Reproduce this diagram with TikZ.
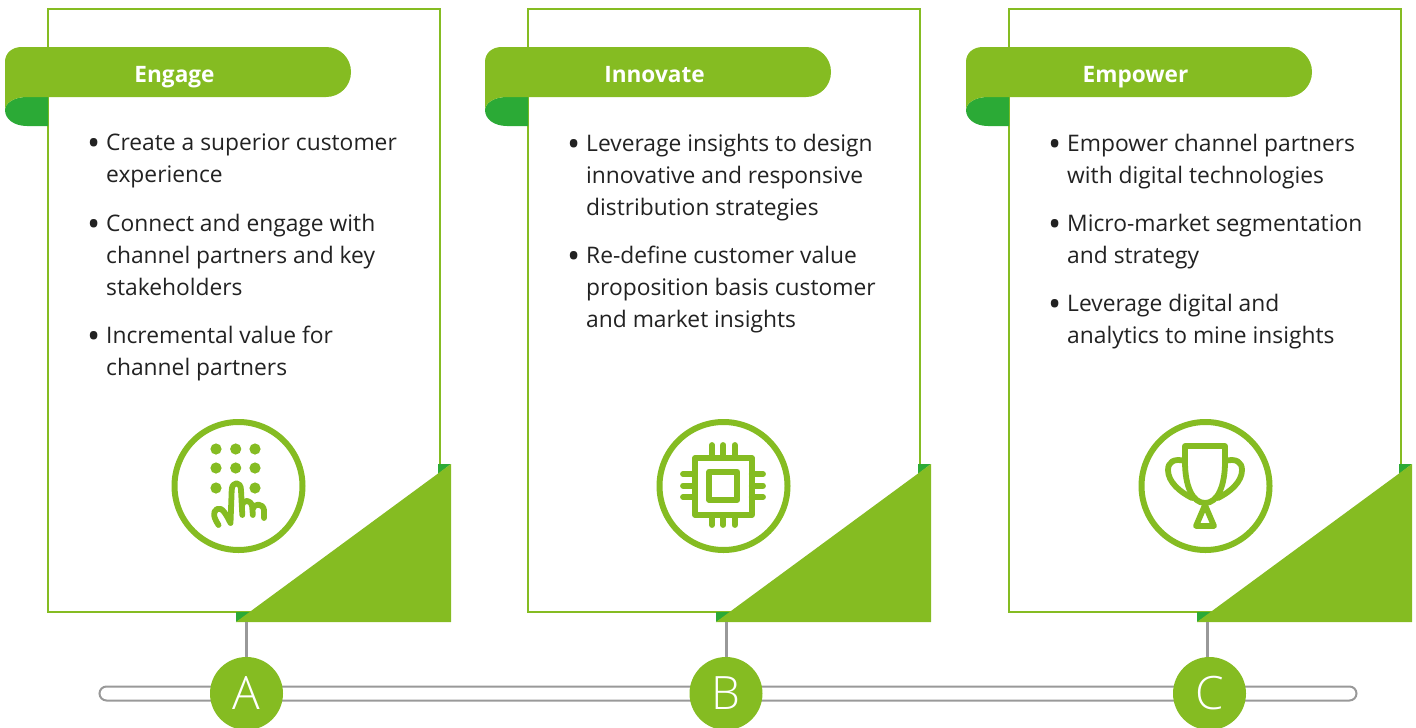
\documentclass[tikz,border=0pt]{standalone}
\usepackage{fontspec}
\setmainfont{Open Sans}
\newfontfamily\stepfont{Open Sans Light}
\usetikzlibrary{positioning}
\definecolor{leaf}{HTML}{85BC22}
\definecolor{deep}{HTML}{2BAA36}
\definecolor{rail}{HTML}{999999}
\definecolor{ink}{HTML}{222222}
\tikzset{
    card/.style={draw=leaf, line width=2.7pt, fill=white},
    bullettext/.style={anchor=north west, inner sep=0pt, align=left, text=ink,
        font=\fontsize{22.8}{32}\selectfont, execute at begin node=\strut},
    ribbontitle/.style={anchor=base, inner sep=0pt, text=white, font=\fontsize{22.6}{28}\selectfont\bfseries},
    iconring/.style={draw=leaf, circle, line width=6pt, minimum size=128pt, inner sep=0pt},
    iconline/.style={draw=leaf, line width=5.8pt, line cap=round, line join=round},
    keydot/.style={fill=leaf},
    track/.style={draw=rail, fill=white, line width=2pt, rounded corners=7pt, minimum width=1257pt, minimum height=14pt, inner sep=0pt},
    stem/.style={draw=rail, line width=3pt},
    stepdot/.style={fill=leaf, circle, minimum size=73pt, inner sep=0pt, text=white, font=\fontsize{46}{46}\stepfont}
}
\newcommand{\itm}{\llap{\raisebox{-4.6pt}{\fontsize{35}{32}\selectfont\textbullet}\hspace{6pt}}}
\begin{document}
\begin{tikzpicture}[x=1pt, y=-1pt]
    \useasboundingbox (0,0) rectangle (1416,728);
    % timeline
    \node[track] (track) at (728,693.5) {};
    \foreach \dx/\n/\title in {0/1/Engage,480/2/Innovate,961/3/Empower}{
    \begin{scope}[xshift=\dx pt]
    \draw[card] (48,9) rectangle (440,612);
    \fill[deep] (236,612) -- (252,612) -- (236,622) -- cycle;
    \fill[deep] (438,464) -- (451,464) -- (438,474) -- cycle;
    \fill[leaf] (451,464) -- (451,622) -- (236,622) -- cycle;
    \coordinate (tip\n) at (246,622);
    % ribbon
    \fill[deep] (48,97) -- (27,97) .. controls (14,97) and (5,103) .. (5,110)
        .. controls (5,119) and (14,126) .. (27,126) -- (48,126) -- cycle;
    \fill[leaf] (5,110) -- (5,62) .. controls (5,53) and (12,47) .. (22,47) -- (326,47)
        .. controls (340,47) and (351,58) .. (351,72) .. controls (351,86) and (340,97) .. (326,97)
        -- (27,97) .. controls (14,97) and (5,103) .. (5,110) -- cycle;
    \node[ribbontitle] (title\n) at (174.5,82) {\title};
    \end{scope}
    }
    % first card
    \node[bullettext] (e1) at (106,134) {\itm Create a superior customer\\experience};
    \node[bullettext] (e2) at (106,214) {\itm Connect and engage with\\channel partners and key\\stakeholders};
    \node[bullettext] (e3) at (106,326) {\itm Incremental value for\\channel partners};
    % second card
    \node[bullettext] (i1) at (586,134) {\itm Leverage insights to design\\innovative and responsive\\distribution strategies};
    \node[bullettext] (i2) at (586,246) {\itm Re-define customer value\\proposition basis customer\\and market insights};
    % third card
    \node[bullettext] (p1) at (1067,134) {\itm Empower channel partners\\with digital technologies};
    \node[bullettext] (p2) at (1067,214) {\itm Micro-market segmentation\\and strategy};
    \node[bullettext] (p3) at (1067,294) {\itm Leverage digital and\\analytics to mine insights};
    % icons
    \node[iconring] (ring1) at (238.5,486) {};
    \node[iconring] (ring2) at (723.5,486) {};
    \node[iconring] (ring3) at (1205.5,486) {};
    \foreach \x in {216,235.7,255}{
        \foreach \y in {449,468}{
            \fill[keydot] (\x,\y) circle (5.6pt);
        }
    }
    \fill[keydot] (216,488) circle (5.6pt);
    \fill[keydot] (255,488) circle (5.6pt);
    \draw[iconline] (218.5,525) .. controls (214,518) and (212,512) .. (217,509)
        .. controls (222,506) and (227,516) .. (230.5,523) -- (231.7,490)
        .. controls (232,481) and (241,481) .. (241,490) -- (242.3,515);
    \draw[iconline] (242,506) .. controls (243,499) and (251,499) .. (252.3,507) -- (252.8,515);
    \draw[iconline] (252.5,509) .. controls (254,503) and (263,503) .. (264,510) -- (264,518);
    % chip
    \draw[iconline] (695,458) rectangle (751.7,515);
    \draw[iconline] (709.3,471.7) rectangle (737.3,500);
    \foreach \x in {712,723.3,734.7}{
        \draw[iconline] (\x,445) -- (\x,458);
        \draw[iconline] (\x,515) -- (\x,525);
    }
    \foreach \y in {474,485.7,497}{
        \draw[iconline] (683,\y) -- (695,\y);
        \draw[iconline] (751.7,\y) -- (763,\y);
    }
    % trophy
    \draw[iconline] (1185,446) -- (1225,446) -- (1225,462) .. controls (1225,485) and (1218,503) .. (1205,503)
        .. controls (1192,503) and (1185,485) .. (1185,462) -- cycle;
    \draw[iconline] (1185,461) .. controls (1174,458) and (1168,462) .. (1168,470)
        .. controls (1168,482) and (1180,492) .. (1192,498);
    \draw[iconline] (1225,461) .. controls (1236,458) and (1242,462) .. (1242,470)
        .. controls (1242,482) and (1230,492) .. (1218,498);
    \draw[iconline] (1205,505) -- (1196,526) -- (1214,526) -- cycle;
    % steps
    \node[stepdot] (A) at (246.5,693.5) {A};
    \node[stepdot] (B) at (726,693.5) {B};
    \node[stepdot] (C) at (1209.5,693.5) {C};
    \draw[stem] (tip1) -- (tip1 |- A.north);
    \draw[stem] (tip2) -- (tip2 |- B.north);
    \draw[stem] (tip3) -- (tip3 |- C.north);
\end{tikzpicture}
\end{document}
